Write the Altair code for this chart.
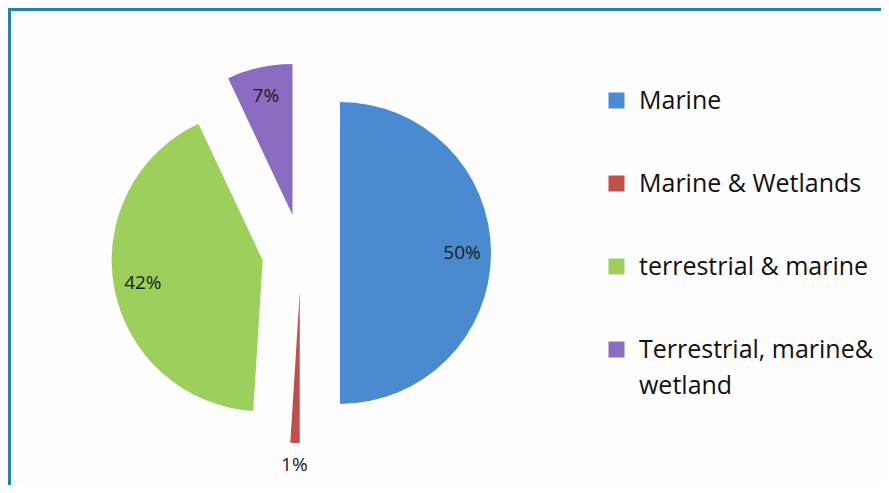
import altair as alt
import pandas as pd

categories = ["Marine", "Marine & Wetlands", "terrestrial & marine", "Terrestrial, marine& wetland"]
values = [50, 1, 42, 7]
slice_order = [1, 2, 3, 4]
colors = ["#4a8ad0", "#c0504d", "#9ccf5c", "#8b6cc0"]

df = pd.DataFrame({"category": categories, "value": values, "order": slice_order})

W, H = 873, 477
CX, CY = 293, 245
EXPLODE = 39
R = 151

base = (
    alt.Chart(df)
    .transform_joinaggregate(total="sum(value)")
    .transform_window(cum="sum(value)", sort=[alt.SortField("order")], frame=[None, 0])
    .transform_calculate(
        a0="(datum.cum - datum.value) / datum.total * 2 * PI",
        a1="datum.cum / datum.total * 2 * PI",
        pct="format(datum.value / datum.total, '.0%')",
    )
    .transform_calculate(mid="(datum.a0 + datum.a1) / 2")
    .transform_calculate(
        px=f"{CX} + {EXPLODE} * sin(datum.mid)",
        py=f"{CY} - {EXPLODE} * cos(datum.mid)",
        lr="datum.value / datum.total < 0.03 ? 173 : 122",
    )
    .transform_calculate(
        lx="datum.px + datum.lr * sin(datum.mid)",
        ly="datum.py - datum.lr * cos(datum.mid)",
    )
)

arcs = base.mark_arc(outerRadius=R).encode(
    theta=alt.Theta("a0:Q", scale=None),
    theta2="a1:Q",
    x=alt.X("px:Q", scale=None, axis=None),
    y=alt.Y("py:Q", scale=None, axis=None),
    color=alt.Color(
        "category:N",
        scale=alt.Scale(domain=categories, range=colors),
        sort=categories,
        legend=alt.Legend(
            title=None,
            orient="none",
            legendX=596,
            legendY=80,
            symbolType="square",
            symbolSize=256,
            symbolStrokeWidth=0,
            labelFont="Open Sans",
            labelFontSize=25,
            labelColor="#111111",
            labelLimit=400,
            rowPadding=57,
            labelOffset=10,
            padding=0,
            labelExpr="datum.label == 'Terrestrial, marine& wetland' ? ['Terrestrial, marine&', 'wetland'] : datum.label",
        ),
    ),
)

labels = base.mark_text(font="Open Sans", fontSize=19, color="#1a1a1a").encode(
    x=alt.X("lx:Q", scale=None, axis=None),
    y=alt.Y("ly:Q", scale=None, axis=None),
    text="pct:N",
)

frame = pd.DataFrame({"k": [0]})
top_rule = alt.Chart(frame).mark_rule(color="#1f86a6", strokeWidth=3).encode(
    x=alt.value(0), x2=alt.value(W), y=alt.value(1.5)
)
left_rule = alt.Chart(frame).mark_rule(color="#1f86a6", strokeWidth=3).encode(
    x=alt.value(1.5), y=alt.value(0), y2=alt.value(H)
)

chart = (
    alt.layer(arcs, labels, top_rule, left_rule)
    .properties(width=W, height=H, autosize="none", padding=0, background="#fdfdfd")
    .configure_view(stroke=None)
    .configure(style={"guide-label": {"lineHeight": 36}})
)

chart.save("out.html", embed_options={"renderer": "svg", "actions": False})
